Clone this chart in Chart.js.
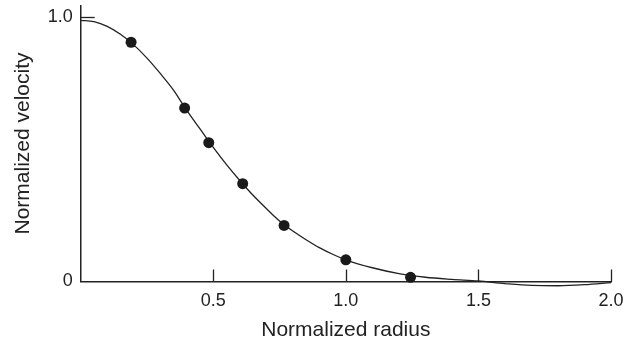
<!DOCTYPE html>
<html>
<head>
<meta charset="utf-8">
<script src="https://cdn.jsdelivr.net/npm/chart.js@4"></script>
<style>
  html, body { margin: 0; padding: 0; background: #fff; }
  canvas { display: block; }
</style>
</head>
<body>
<canvas id="c" width="636" height="346"></canvas>
<script>
// Smooth fitted curve (normalized radius vs normalized velocity)
const curveX = [0, 0.05, 0.1, 0.15, 0.2, 0.25, 0.3, 0.35, 0.4, 0.45, 0.5, 0.55, 0.6, 0.65, 0.7, 0.75, 0.8, 0.85, 0.9, 0.95, 1.0, 1.1, 1.2, 1.3, 1.4, 1.5, 1.6, 1.7, 1.8, 1.9, 2.0];
const curveY = [0.988, 0.983, 0.965, 0.935, 0.895, 0.845, 0.787, 0.724, 0.647, 0.577, 0.507, 0.442, 0.382, 0.326, 0.276, 0.229, 0.191, 0.158, 0.128, 0.103, 0.082, 0.052, 0.030, 0.016, 0.008, 0.002, -0.008, -0.015, -0.016, -0.012, -0.004];
// Measured points
const pointX = [0.19, 0.392, 0.483, 0.611, 0.767, 1.0, 1.244];
const pointY = [0.905, 0.656, 0.525, 0.370, 0.212, 0.082, 0.016];
// Ticks
const xTickValues = [0.5, 1.0, 1.5, 2.0];
const xTickLabels = ['0.5', '1.0', '1.5', '2.0'];
const yTickValues = [0, 1.0];
const yTickLabels = ['0', '1.0'];
const xTitle = 'Normalized radius';
const yTitle = 'Normalized velocity';

const INK = '#222';
const FONT = '"Liberation Sans", Arial, Helvetica, sans-serif';

const inwardTicks = {
  id: 'inwardTicks',
  afterDraw(chart) {
    const ctx = chart.ctx;
    const xs = chart.scales.x, ys = chart.scales.y;
    const area = chart.chartArea;
    ctx.save();
    ctx.strokeStyle = INK;
    ctx.lineWidth = 1.3;
    xTickValues.forEach(v => {
      const px = Math.round(xs.getPixelForValue(v)) + 0.5;
      ctx.beginPath();
      ctx.moveTo(px, area.bottom);
      ctx.lineTo(px, area.bottom - 12);
      ctx.stroke();
    });
    yTickValues.forEach(v => {
      if (v === 0) return;
      const py = Math.round(ys.getPixelForValue(v)) + 0.5;
      ctx.beginPath();
      ctx.moveTo(area.left, py);
      ctx.lineTo(area.left + 14, py);
      ctx.stroke();
    });
    ctx.restore();
  }
};

new Chart(document.getElementById('c'), {
  type: 'scatter',
  data: {
    datasets: [
      {
        type: 'line',
        data: curveX.map((x, i) => ({ x: x, y: curveY[i] })),
        borderColor: INK,
        borderWidth: 1.3,
        pointRadius: 0,
        fill: false,
        cubicInterpolationMode: 'monotone',
        clip: false,
        order: 2
      },
      {
        type: 'scatter',
        data: pointX.map((x, i) => ({ x: x, y: pointY[i] })),
        backgroundColor: '#1a1a1a',
        borderColor: '#1a1a1a',
        pointRadius: 5.5,
        borderWidth: 0,
        clip: false,
        order: 1
      }
    ]
  },
  options: {
    responsive: false,
    animation: false,
    events: [],
    layout: { padding: { left: 0, right: 25, top: 5, bottom: 0 } },
    plugins: { legend: { display: false }, tooltip: { enabled: false } },
    scales: {
      x: {
        type: 'linear',
        min: 0,
        max: 2,
        grid: { display: false, drawTicks: false },
        border: { display: true, color: INK, width: 1.5 },
        afterBuildTicks: s => { s.ticks = xTickValues.map(v => ({ value: v })); },
        ticks: {
          color: INK,
          font: { family: FONT, size: 18 },
          padding: 9,
          maxRotation: 0,
          callback: (v, i) => xTickLabels[i]
        },
        title: {
          display: true,
          text: xTitle,
          color: INK,
          font: { family: FONT, size: 21 },
          padding: { top: 0, bottom: 3 }
        },
        afterFit: s => { s.height = 64.5; s.paddingLeft = 0; s.paddingRight = 0; }
      },
      y: {
        type: 'linear',
        min: 0,
        max: 1.044,
        grid: { display: false, drawTicks: false },
        border: { display: true, color: INK, width: 1.5 },
        afterBuildTicks: s => { s.ticks = yTickValues.map(v => ({ value: v })); },
        ticks: {
          color: INK,
          font: { family: FONT, size: 18 },
          padding: 8,
          callback: (v, i) => yTickLabels[i]
        },
        title: {
          display: true,
          text: yTitle,
          color: INK,
          font: { family: FONT, size: 21 },
          padding: { top: 11, bottom: 0 }
        },
        afterFit: s => { s.width = 80.7; s.paddingTop = 0; s.paddingBottom = 0; }
      }
    }
  },
  plugins: [inwardTicks]
});
</script>
</body>
</html>
